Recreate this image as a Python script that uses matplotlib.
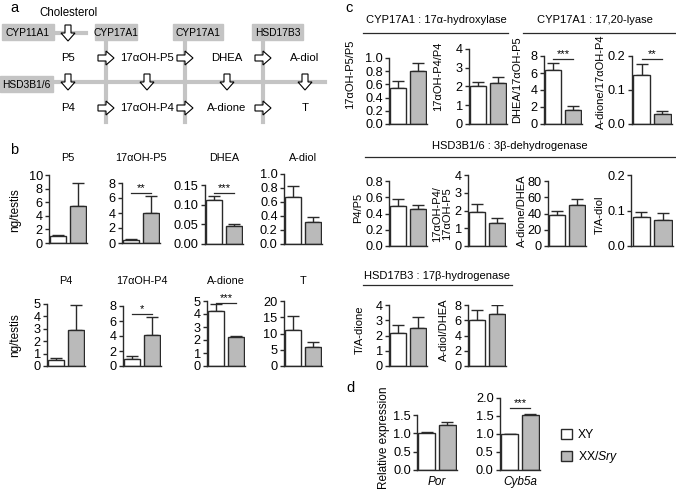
import matplotlib.pyplot as plt
from matplotlib.patches import Rectangle, FancyArrow, Patch
from matplotlib.ticker import FormatStrFormatter
import numpy as np

plt.rcParams['font.family'] = ['Liberation Sans', 'DejaVu Sans']
plt.rcParams['mathtext.fontset'] = 'custom'
plt.rcParams['mathtext.it'] = 'Liberation Sans:italic'
plt.rcParams['mathtext.rm'] = 'Liberation Sans'

W, H = 676, 492
GREY = '#bababa'
EDGE = '#2a2a2a'

# panel b: steroid content (ng/testis), XY vs XX/Sry
b_names = ['P5', '17αOH-P5', 'DHEA', 'A-diol', 'P4', '17αOH-P4', 'A-dione', 'T']
b_xy = [1.0, 0.4, 0.112, 0.67, 0.5, 1.0, 4.2, 11.0]
b_xy_err = [0.12, 0.08, 0.010, 0.16, 0.12, 0.35, 0.55, 4.3]
b_xx = [5.5, 4.0, 0.047, 0.31, 2.9, 4.2, 2.2, 5.8]
b_xx_err = [3.3, 2.3, 0.003, 0.07, 2.0, 2.4, 0.08, 1.7]
b_ymax = [10, 8, 0.15, 1.0, 5, 8, 5, 20]
b_step = [2, 2, 0.05, 0.2, 1, 2, 1, 5]
b_fmt = ['%d', '%d', '%.2f', '%.1f', '%d', '%d', '%d', '%d']
b_sig = ['', '**', '***', '', '', '*', '***', '']
b_sig_y = [0, 6.7, 0.13, 0, 0, 6.9, 4.85, 0]

# panel c: ratios
c_labels = ['17αOH-P5/P5', '17αOH-P4/P4', 'DHEA/17αOH-P5', 'A-dione/17αOH-P4',
            'P4/P5', '17αOH-P4/\n17αOH-P5', 'A-dione/DHEA', 'T/A-diol',
            'T/A-dione', 'A-diol/DHEA']
c_xy = [0.55, 2.05, 6.35, 0.145, 0.49, 1.9, 38, 0.083, 2.15, 6.0]
c_xy_err = [0.10, 0.2, 0.85, 0.032, 0.09, 0.45, 5.5, 0.013, 0.55, 1.4]
c_xx = [0.8, 2.2, 1.7, 0.03, 0.45, 1.3, 51, 0.074, 2.5, 6.85]
c_xx_err = [0.13, 0.3, 0.45, 0.008, 0.06, 0.25, 7, 0.018, 0.7, 1.2]
c_ymax = [1.0, 4, 8, 0.2, 0.8, 4, 80, 0.2, 4, 8]
c_step = [0.2, 1, 2, 0.1, 0.2, 1, 20, 0.1, 1, 2]
c_fmt = ['%.1f', '%d', '%d', '%.1f', '%.1f', '%d', '%d', '%.1f', '%d', '%d']
c_sig = ['', '', '***', '**', '', '', '', '', '', '']
c_sig_y = [0, 0, 7.6, 0.19, 0, 0, 0, 0, 0, 0]

# panel d: relative expression
d_genes = ['Por', 'Cyb5a']
d_xy = [1.0, 1.0]
d_xy_err = [0.04, 0.01]
d_xx = [1.22, 1.53]
d_xx_err = [0.08, 0.03]
d_ymax = [1.5, 2.0]
d_sig = ['', '***']
d_sig_y = [0, 1.72]

fig = plt.figure(figsize=(W / 100, H / 100), dpi=100)
bg = fig.add_axes([0, 0, 1, 1])
bg.set_xlim(0, W)
bg.set_ylim(H, 0)
bg.axis('off')


def px_axes(left, top, bottom, width=38):
    return fig.add_axes([left / W, 1 - bottom / H, width / W, (bottom - top) / H])


def bar_panel(ax, xy, xy_err, xx, xx_err, ymax, step, fmt, sig='', sig_y=0):
    x = np.arange(2)
    vals = [xy, xx]
    ax.errorbar(x, vals, yerr=[[0, 0], [xy_err, xx_err]], fmt='none', ecolor=EDGE,
                elinewidth=1.0, capsize=4, capthick=1.0, zorder=1)
    ax.bar(x, vals, width=0.82, color=['white', GREY], edgecolor=EDGE, linewidth=1.0, zorder=2)
    ax.set_xlim(-0.48, 1.48)
    ax.set_ylim(0, ymax)
    ax.set_yticks(np.arange(0, ymax + step / 2, step))
    ax.yaxis.set_major_formatter(FormatStrFormatter(fmt))
    ax.set_xticks([])
    for s in ['top', 'right']:
        ax.spines[s].set_visible(False)
    for s in ['left', 'bottom']:
        ax.spines[s].set_linewidth(1.0)
        ax.spines[s].set_color(EDGE)
    ax.tick_params(axis='y', direction='out', length=3, width=1.0, labelsize=9.2, pad=1.5, color=EDGE)
    ax.patch.set_alpha(0)
    if sig:
        ax.plot([0, 1], [sig_y, sig_y], color=EDGE, lw=0.9, clip_on=False)
        ax.text(0.5, sig_y, sig, ha='center', va='bottom', fontsize=8, clip_on=False)


# ---------- panel a: pathway diagram ----------
LINE = '#c4c4c4'
bg.text(10, 8, 'a', fontsize=10.5, va='center')
bg.text(69, 13, 'Cholesterol', fontsize=8.3, ha='center', va='center')
bg.plot([54, 86], [33, 33], color=LINE, lw=3, zorder=1)
bg.plot([54, 325], [82, 82], color=LINE, lw=3, zorder=1)
for vx in [106, 185, 263]:
    bg.plot([vx, vx], [33, 122], color=LINE, lw=3, zorder=1)
boxes = [(2, 24, 52, 'CYP11A1'), (95, 24, 42, 'CYP17A1'), (173, 24, 50, 'CYP17A1'),
         (252, 24, 51, 'HSD17B3'), (0, 76, 53, 'HSD3B1/6')]
for bx, by, bw, lab in boxes:
    bg.add_patch(Rectangle((bx, by), bw, 16, color=LINE, zorder=2))
    bg.text(bx + bw / 2, by + 8.5, lab, fontsize=7.4, ha='center', va='center', zorder=3)

arrow_kw = dict(width=6, head_width=14, head_length=8, length_includes_head=True,
                fc='white', ec='black', lw=0.8, zorder=4)
bg.add_patch(FancyArrow(68, 25, 0, 16, **arrow_kw))
for ax_ in [68, 147, 227, 305]:
    bg.add_patch(FancyArrow(ax_, 74, 0, 16, **arrow_kw))
for rx in [106, 185, 263]:
    for ry in [58, 108]:
        bg.add_patch(FancyArrow(rx - 8, ry, 16, 0, **arrow_kw))
row1 = ['P5', '17αOH-P5', 'DHEA', 'A-diol']
row2 = ['P4', '17αOH-P4', 'A-dione', 'T']
for tx, t1, t2 in zip([68, 147, 227, 305], row1, row2):
    bg.text(tx, 58, t1, fontsize=8.2, ha='center', va='center')
    bg.text(tx, 108, t2, fontsize=8.2, ha='center', va='center')

# ---------- panel b ----------
bg.text(10, 150, 'b', fontsize=10.5, va='center')
b_pos = [(49, 175, 243), (122, 183, 243), (205, 185, 244), (284, 174, 244),
         (47, 304, 366), (123, 306, 366), (207, 301, 366), (284, 301, 366)]
for i, (l, t, b) in enumerate(b_pos):
    ax = px_axes(l, t, b)
    bar_panel(ax, b_xy[i], b_xy_err[i], b_xx[i], b_xx_err[i], b_ymax[i], b_step[i],
              b_fmt[i], b_sig[i], b_sig_y[i])
    title_y = 158 if i < 4 else 281
    bg.text(l + 19, title_y, b_names[i], fontsize=7.8, ha='center', va='center')
bg.text(15, 210, 'ng/testis', fontsize=8.5, rotation=90, ha='center', va='center')
bg.text(15, 335, 'ng/testis', fontsize=8.5, rotation=90, ha='center', va='center')

# ---------- panel c ----------
bg.text(345, 8, 'c', fontsize=10.5, va='center')
headers = [(436, 20, 363, 508, 33, 'CYP17A1 : 17α-hydroxylase'),
           (595, 20, 523, 676, 33, 'CYP17A1 : 17,20-lyase'),
           (510, 146, 365, 676, 157, 'HSD3B1/6 : 3β-dehydrogenase'),
           (437, 276, 363, 512, 285, 'HSD17B3 : 17β-hydrogenase')]
for hx, hy, x0, x1, ly, txt in headers:
    bg.text(hx, hy, txt, fontsize=8, ha='center', va='center')
    bg.plot([x0, x1], [ly, ly], color=EDGE, lw=0.9)
# (left, top, bottom, width, label x, label y) in pixels
c_pos = [(389, 58, 124, 38, 350, 74), (469, 49, 124, 38, 438, 76),
         (544, 56, 124, 38, 517, 80), (632, 56, 124, 40, 601, 82),
         (389, 181, 246, 38, 358, 208), (468, 175, 246, 38, 442, 214),
         (548, 181, 246, 38, 522, 211), (631, 175, 246, 42, 600, 215),
         (389, 305, 366, 38, 360, 330), (468, 305, 366, 38, 444, 330)]
for i, (l, t, b, w, lx, ly) in enumerate(c_pos):
    ax = px_axes(l, t, b, w)
    bar_panel(ax, c_xy[i], c_xy_err[i], c_xx[i], c_xx_err[i], c_ymax[i], c_step[i],
              c_fmt[i], c_sig[i], c_sig_y[i])
    bg.text(lx, ly, c_labels[i], fontsize=8, rotation=90, ha='center', va='center',
            multialignment='center', linespacing=0.95)

# ---------- panel d ----------
bg.text(346, 388, 'd', fontsize=10.5, va='center')
d_pos = [(417, 415, 470), (500, 398, 470)]
for i, (l, t, b) in enumerate(d_pos):
    ax = px_axes(l, t, b, 40)
    bar_panel(ax, d_xy[i], d_xy_err[i], d_xx[i], d_xx_err[i], d_ymax[i], 0.5,
              '%.1f', d_sig[i], d_sig_y[i])
    ax.set_xlabel(d_genes[i], fontsize=8.5, style='italic', labelpad=4)
bg.text(384, 438, 'Relative expression', fontsize=8.5, rotation=90, ha='center', va='center')

handles = [Patch(facecolor='white', edgecolor=EDGE, lw=1.0),
           Patch(facecolor=GREY, edgecolor=EDGE, lw=1.0)]
fig.legend(handles, ['XY', 'XX/$\\mathit{Sry}$'], loc='center left',
           bbox_to_anchor=(550 / W, 1 - 447 / H), frameon=False, fontsize=8.8,
           handlelength=0.9, handleheight=0.9, handletextpad=0.5, labelspacing=0.6)

fig.savefig('out.png', dpi=100)
